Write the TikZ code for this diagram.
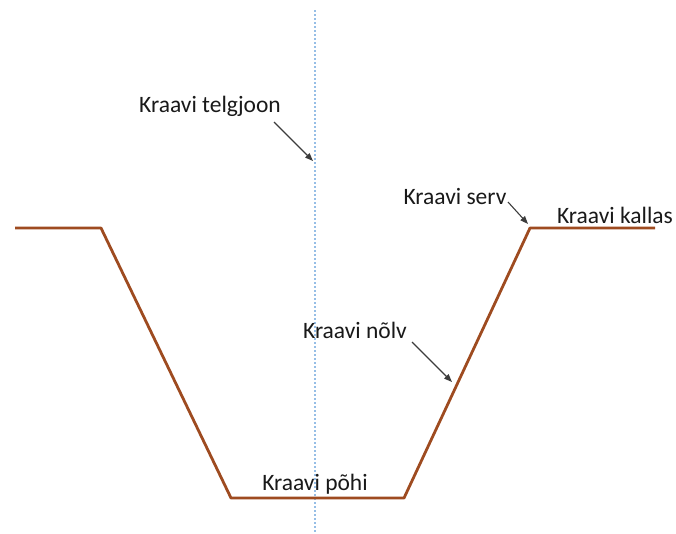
\documentclass[tikz,border=0pt]{standalone}
\usepackage{fontspec}
\setmainfont{Carlito}
\usetikzlibrary{arrows.meta}
\definecolor{trench}{RGB}{158,75,32}
\definecolor{axisblue}{RGB}{150,190,230}
\definecolor{txt}{RGB}{25,25,25}
\definecolor{arr}{RGB}{60,60,60}
\tikzset{
  lbl/.style={font=\fontsize{23.5}{26}\selectfont, text=txt, inner sep=1pt},
  pointer/.style={draw=arr, line width=1.1pt, -{Triangle[length=8pt,width=6pt]}},
  profile/.style={draw=trench, line width=2.8pt, line join=round},
  axisline/.style={draw=axisblue, line width=1.6pt, dash pattern=on 1.6pt off 2.4pt}
}
\begin{document}
\begin{tikzpicture}[x=1pt,y=-1pt]
\useasboundingbox (0,0) rectangle (676,533);
% centre line
\coordinate (axtop) at (315,10);
\coordinate (axbot) at (315,533);
\draw[axisline] (axtop) -- (axbot);
% trench profile
\coordinate (p1) at (15,228);
\coordinate (p2) at (101,228);
\coordinate (p3) at (231,498);
\coordinate (p4) at (404,498);
\coordinate (p5) at (530,228);
\coordinate (p6) at (655,228);
\draw[profile] (p1) -- (p2) -- (p3) -- (p4) -- (p5) -- (p6);
% labels
\node[lbl] (telg) at (210,106) {Kraavi telgjoon};
\node[lbl] (serv) at (455,196) {Kraavi serv};
\node[lbl] (kallas) at (615,215) {Kraavi kallas};
\node[lbl] (nolv) at (355,330) {Kraavi nõlv};
\node[lbl] (pohi) at (315,484) {Kraavi põhi};
% pointers
\coordinate (telgS) at (274,122);
\coordinate (telgE) at (313,161);
\coordinate (servS) at (508,202);
\coordinate (servE) at (528,224);
\coordinate (nolvS) at (412,342);
\coordinate (nolvE) at (452,382);
\draw[pointer] (telgS) -- (telgE);
\draw[pointer] (servS) -- (servE);
\draw[pointer] (nolvS) -- (nolvE);
\end{tikzpicture}
\end{document}
